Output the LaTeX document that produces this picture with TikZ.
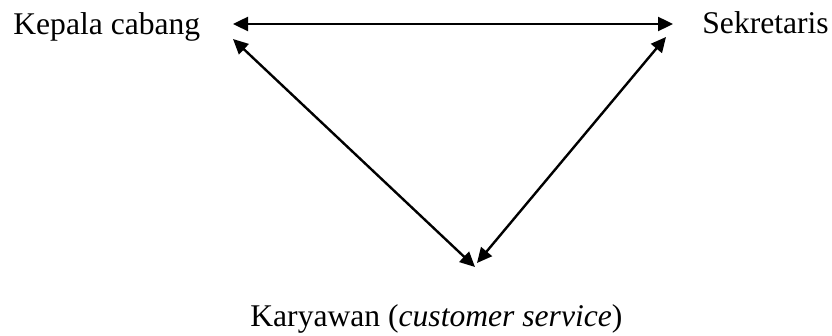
\documentclass[tikz,border=0pt]{standalone}
\usepackage{fontspec}
\setmainfont{Liberation Serif}
\usetikzlibrary{arrows.meta}
\begin{document}
\begin{tikzpicture}[x=0.5pt,y=-0.5pt,
    jabatan/.style={inner sep=0pt,anchor=base west,font=\fontsize{15.8}{18}\selectfont},
    link/.style={line width=1.2pt,{Triangle[length=7.5pt,width=7pt]}-{Triangle[length=7.5pt,width=7pt]}}]
  % Fix the size of the picture
  \useasboundingbox (0,0) rectangle (832,336);

  % Label the three positions
  \node[jabatan] (kepala) at (13,35) {Kepala cabang};
  \node[jabatan] (sekretaris) at (702,34) {Sekretaris};
  \node[jabatan] (karyawan) at (250,327) {Karyawan (\textit{customer service})};

  % Ends of the arrows
  \coordinate (kc top) at (233,24);
  \coordinate (sk top) at (673,24);
  \coordinate (kc side) at (233,39);
  \coordinate (sk side) at (666,37);
  \coordinate (kw left) at (475,267);
  \coordinate (kw right) at (477,263);

  % Draw the arrows
  \draw[link] (kc top) -- (sk top);
  \draw[link] (kc side) -- (kw left);
  \draw[link] (sk side) -- (kw right);
\end{tikzpicture}
\end{document}
